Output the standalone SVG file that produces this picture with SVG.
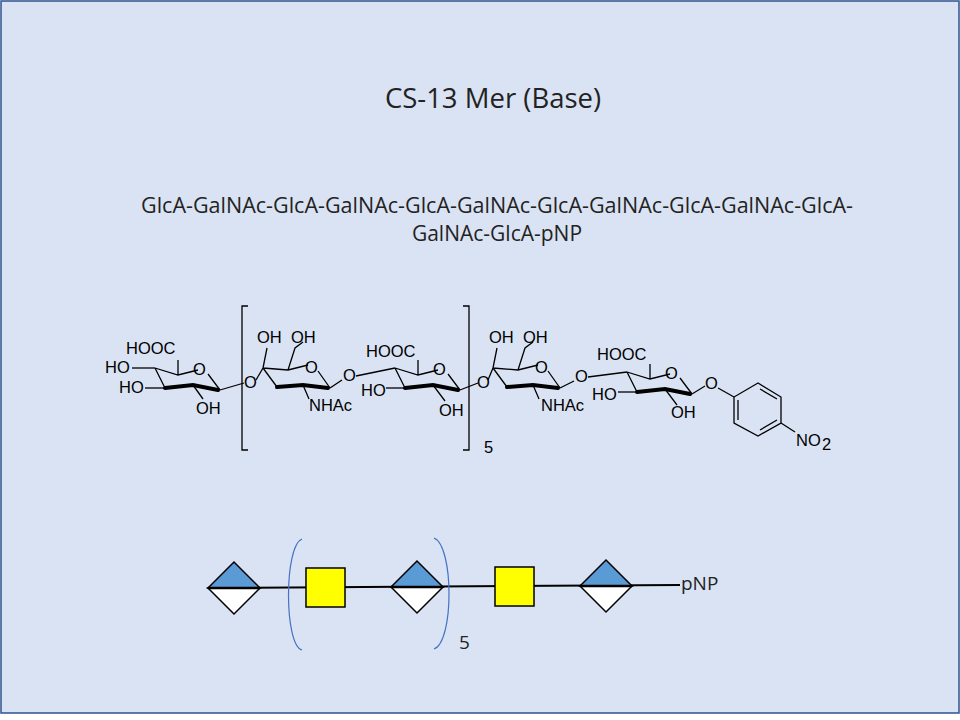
<svg xmlns="http://www.w3.org/2000/svg" width="960" height="720" viewBox="0 0 960 720">
<defs>
<style>
.t{font-family:"Open Sans","Liberation Sans",sans-serif;fill:#222}
.c{font-family:"Liberation Sans",Arial,sans-serif;font-size:16.5px;fill:#000}
.b{stroke:#000;stroke-width:1.3;fill:none}
.w{stroke:#000;stroke-width:4;fill:none;stroke-linecap:round}
</style>
<g id="glc">
<path class="b" d="M0,0 L23,7 L43,2 M53,6 L65,22 M0,0 L10,20 M23,7 L23,-8"/>
<path class="w" d="M10,20 L38,17 L63,22"/>
<text class="c" x="38" y="7">O</text>
</g>
<g id="gal">
<path class="b" d="M0,0 L25,2 L45,-3 M55,3 L67,20 M0,0 L14,19 M0,0 L4,-20 M25,2 L32,-20 L40,-26 M40,17 L46,31"/>
<path class="w" d="M14,19 L40,17 L65,20"/>
<text class="c" x="42" y="5">O</text>
</g>
</defs>
<rect x="1" y="1" width="958" height="712" fill="#dae3f3" stroke="#2f528f" stroke-width="1.5"/>
<text class="t" x="493" y="108" font-size="27.5" text-anchor="middle">CS-13 Mer (Base)</text>
<text class="t" x="497" y="213" font-size="21" text-anchor="middle" textLength="712" lengthAdjust="spacingAndGlyphs">GlcA-GalNAc-GlcA-GalNAc-GlcA-GalNAc-GlcA-GalNAc-GlcA-GalNAc-GlcA-</text>
<text class="t" x="497" y="241" font-size="21" text-anchor="middle">GalNAc-GlcA-pNP</text>

<g id="structure">
<use href="#glc" x="155" y="368"/>
<text class="c" x="126" y="354">HOOC</text>
<text class="c" x="105" y="373">HO</text><path class="b" d="M132,368 L155,368"/>
<text class="c" x="119" y="393">HO</text><path class="b" d="M145,388 L165,388"/>
<text class="c" x="196" y="414">OH</text><path class="b" d="M193,385 L203,399"/>
<path class="b" d="M220,390 L244,383"/><text class="c" x="244" y="388">O</text>
<path class="b" d="M248,306 L242,306 L242,450 L248,450"/>
<use href="#gal" x="263" y="368"/>
<path class="b" d="M256,380 L263,368"/>
<text class="c" x="257" y="343">OH</text><text class="c" x="291" y="343">OH</text>
<text class="c" x="309" y="411">NHAc</text>
<path class="b" d="M330,388 L342,380"/><text class="c" x="343" y="381">O</text>
<path class="b" d="M356,376 L395,368"/>
<use href="#glc" x="395" y="368"/>
<text class="c" x="366" y="357">HOOC</text>
<text class="c" x="361" y="396">HO</text><path class="b" d="M386,388 L405,388"/>
<text class="c" x="439" y="416">OH</text><path class="b" d="M433,385 L445,401"/>
<path class="b" d="M460,390 L478,383"/>
<path class="b" d="M463,306 L469,306 L469,450 L463,450"/>
<text class="c" x="484" y="453">5</text>
<text class="c" x="477" y="388">O</text>
<use href="#gal" x="493" y="368"/>
<path class="b" d="M488,380 L493,368"/>
<text class="c" x="489" y="343">OH</text><text class="c" x="523" y="343">OH</text>
<text class="c" x="541" y="411">NHAc</text>
<path class="b" d="M560,388 L574,381"/><text class="c" x="575" y="382">O</text>
<path class="b" d="M588,377 L627,372"/>
<use href="#glc" x="627" y="372"/>
<text class="c" x="597" y="360">HOOC</text>
<text class="c" x="592" y="400">HO</text><path class="b" d="M618,392 L637,392"/>
<text class="c" x="671" y="418">OH</text><path class="b" d="M665,389 L677,405"/>
<path class="b" d="M692,394 L705,386"/><text class="c" x="705" y="389">O</text>
<path class="b" d="M718,388 L734,397"/>
<path class="b" d="M758,383 L734,397 L734,423 L758,436 L781,423 L781,397 Z M738,400 L738,420 M760,430 L777,420 M760,389 L777,399"/>
<path class="b" d="M781,423 L795,432"/>
<text class="c" x="796" y="446">NO</text><text class="c" x="822" y="450" font-size="12">2</text>
</g>

<g id="connectors">
<path d="M208,588 L680,585" stroke="#000" stroke-width="2" fill="none"/>
<path d="M302,539 C284,546 284,645 302,650" stroke="#4472c4" stroke-width="1.2" fill="none"/>
<path d="M434,538 C454,546 454,642 434,649" stroke="#4472c4" stroke-width="1.2" fill="none"/>
</g>
<g id="glca1"><path d="M208,588 L234,562 L260,588 Z" fill="#5b9bd5" stroke="#000" stroke-width="1.5"/><path d="M208,588 L234,614 L260,588 Z" fill="#fff" stroke="#000" stroke-width="1.5"/><path d="M208,588 L260,588" stroke="#000" stroke-width="2.5"/></g>
<g id="galnac1"><rect x="306" y="568" width="39" height="39" fill="#ff0" stroke="#000" stroke-width="1.5"/></g>
<g id="glca2"><path d="M391,587 L417,561 L443,587 Z" fill="#5b9bd5" stroke="#000" stroke-width="1.5"/><path d="M391,587 L417,613 L443,587 Z" fill="#fff" stroke="#000" stroke-width="1.5"/><path d="M391,587 L443,587" stroke="#000" stroke-width="2.5"/></g>
<g id="galnac2"><rect x="495" y="567" width="39" height="39" fill="#ff0" stroke="#000" stroke-width="1.5"/></g>
<g id="glca3"><path d="M580,586 L606,560 L632,586 Z" fill="#5b9bd5" stroke="#000" stroke-width="1.5"/><path d="M580,586 L606,612 L632,586 Z" fill="#fff" stroke="#000" stroke-width="1.5"/><path d="M580,586 L632,586" stroke="#000" stroke-width="2.5"/></g>
<text class="t" x="681" y="590" font-size="19">pNP</text>
<text class="t" x="459" y="649" font-size="19">5</text>
</svg>
